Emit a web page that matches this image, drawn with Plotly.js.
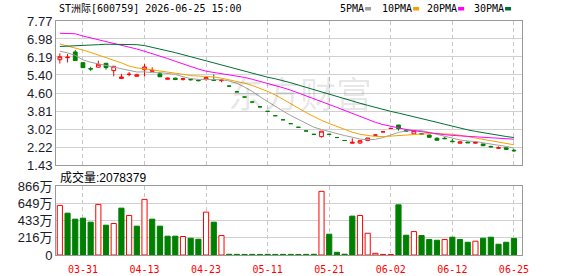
<!DOCTYPE html>
<html><head><meta charset="utf-8">
<script src="https://cdn.plot.ly/plotly-3.0.1.min.js"></script>
<style>html,body{margin:0;padding:0;background:#fff;}#chart{width:578px;height:276px;}</style>
</head><body><div id="chart"></div>
<script>
// ---------- data ----------
const dates = ['03-26','03-27','03-30','03-31','04-01','04-02','04-03','04-07','04-08','04-09',
  '04-10','04-13','04-14','04-15','04-16','04-17','04-20','04-21','04-22','04-23',
  '04-24','04-27','04-28','04-29','04-30','05-07','05-08','05-11','05-12','05-13',
  '05-14','05-15','05-18','05-19','05-20','05-21','05-22','05-25','05-26','05-27',
  '05-28','05-29','06-01','06-02','06-03','06-04','06-05','06-08','06-09','06-10',
  '06-11','06-12','06-15','06-16','06-17','06-18','06-22','06-23','06-24','06-25'];
const open  = [6.07,6.16,6.41,5.94,5.68,5.74,5.91,5.59,5.24,5.42,
  5.34,5.63,5.56,5.45,5.21,5.26,5.21,5.21,5.17,5.22,
  5.20,5.15,4.91,4.66,4.43,4.21,4.00,3.80,3.61,3.43,
  3.26,3.10,2.94,2.79,2.69,2.79,2.65,2.52,2.40,2.41,
  2.52,2.76,2.90,3.05,3.20,2.97,2.81,2.82,2.76,2.62,
  2.62,2.49,2.40,2.45,2.40,2.37,2.26,2.18,2.20,2.09];
const high  = [6.35,6.32,6.50,5.96,5.76,6.03,5.93,5.79,5.45,5.53,
  5.45,5.88,5.74,5.53,5.28,5.28,5.28,5.23,5.19,5.32,
  5.42,5.20,4.91,4.66,4.43,4.21,4.00,3.80,3.61,3.43,
  3.26,3.10,2.94,2.79,2.93,2.79,2.65,2.52,2.62,2.53,
  2.63,2.76,2.90,3.05,3.20,2.99,2.97,2.84,2.77,2.66,
  2.68,2.59,2.49,2.47,2.47,2.38,2.29,2.26,2.21,2.15];
const low   = [5.90,5.95,6.02,5.71,5.57,5.73,5.63,5.34,5.23,5.34,
  5.33,5.33,5.53,5.31,5.20,5.17,5.15,5.16,5.12,5.15,
  5.14,5.08,4.91,4.66,4.43,4.21,4.00,3.80,3.61,3.43,
  3.26,3.10,2.94,2.79,2.65,2.79,2.65,2.52,2.39,2.37,
  2.49,2.76,2.90,3.05,2.95,2.90,2.78,2.77,2.65,2.52,
  2.58,2.45,2.39,2.41,2.39,2.28,2.22,2.17,2.12,2.02];
const close = [6.20,6.18,6.03,5.72,5.66,5.87,5.72,5.78,5.31,5.43,
  5.41,5.75,5.60,5.32,5.26,5.20,5.23,5.19,5.15,5.28,
  5.16,5.17,4.91,4.66,4.43,4.21,4.00,3.80,3.61,3.43,
  3.26,3.10,2.94,2.79,2.93,2.79,2.65,2.52,2.44,2.51,
  2.63,2.76,2.90,3.05,3.04,2.93,2.95,2.80,2.66,2.53,
  2.60,2.47,2.46,2.42,2.44,2.29,2.24,2.20,2.13,2.07];
// volume in 万 (10,000 shares)
const volWan = [622,525,450,462,412,635,374,395,588,496,
  362,698,450,362,236,236,232,210,198,538,
  412,244,9,8,7,8,7,8,7,8,
  8,7,8,9,799,261,34,10,488,496,
  273,21,7,7,630,248,294,244,194,185,
  194,223,194,160,173,210,223,135,160,207.8379];
// moving-average values at the left edge (earlier history not shown)
const ma5Head  = [6.44,6.37,6.26,6.06];
const ma10Head = [6.76,6.68,6.59,6.49,6.39,6.28,6.17,6.05,5.93];
const ma20Head = [7.23,7.23,7.21,7.11,7.03,6.96,6.88,6.80,6.72,6.63,6.54,6.44,6.34,6.23,6.12,6.00,5.88,5.77,5.66];
const ma30Head = [6.65,6.66,6.67,6.69,6.71,6.73,6.75,6.75,6.75,6.75,6.73,6.69,6.62,6.55,6.47,6.38,6.29,6.20,
  6.11,6.02,5.93,5.83,5.73,5.64,5.55,5.46,5.38,5.30,5.23];
const maNames  = ['5PMA','10PMA','20PMA','30PMA'];
const priceTicks = [1.43,2.22,3.02,3.81,4.60,5.40,6.19,6.98,7.77];
const volTicks = [0,216,433,649,866];
const volTickText = ['0','216万','433万','649万','866万'];
const xTickDates = ['03-31','04-13','04-23','05-11','05-21','06-02','06-12','06-25'];
const titleText = 'ST洲际[600759] 2026-06-25 15:00';
const volLabel = '成交量';
const watermark = '东方财富';

// ---------- styling / geometry ----------
const RED = '#ff0000', GREEN = '#008000';
const maColors = ['#a0a0a0','#f5a200','#ff00ff','#006f35'];
const W = 578, H = 276, ML = 56, MR = 56, MT = 21, MB = 21;
const PW = W - ML - MR, PH = H - MT - MB;
const px = x => (x - ML) / PW;
const py = y => (H - MB - y) / PH;

function movingAvg(n, head) {
  return close.map((c, i) => {
    if (i < n - 1) return head[i];
    let s = 0; for (let k = i - n + 1; k <= i; k++) s += close[k];
    return s / n;
  });
}
const maSeries = [movingAvg(5, ma5Head), movingAvg(10, ma10Head), movingAvg(20, ma20Head), movingAvg(30, ma30Head)];

const volUp = close.map((c, i) => i === 0 ? c >= open[i] : (c === close[i-1] ? c >= open[i] : c > close[i-1]));

const traces = [];
traces.push({
  type: 'candlestick', x: dates, open: open, high: high, low: low, close: close,
  xaxis: 'x', yaxis: 'y', whiskerwidth: 0, hoverinfo: 'skip', showlegend: false,
  increasing: {line: {color: RED, width: 1}, fillcolor: '#ffffff'},
  decreasing: {line: {color: GREEN, width: 1}, fillcolor: GREEN}
});
maSeries.forEach((s, k) => traces.push({
  type: 'scatter', mode: 'lines', x: dates, y: s, xaxis: 'x', yaxis: 'y',
  line: {color: maColors[k], width: 1}, hoverinfo: 'skip', showlegend: false, name: maNames[k]
}));
traces.push({
  type: 'bar', x: dates, y: volWan, xaxis: 'x2', yaxis: 'y2', hoverinfo: 'skip', showlegend: false,
  marker: {color: volUp.map(u => u ? '#ffffff' : GREEN),
           line: {color: volUp.map(u => u ? RED : GREEN), width: 1}}
});

const frame = {showline: true, mirror: true, linecolor: '#999999', linewidth: 1, zeroline: false, fixedrange: true};
const xBase = Object.assign({}, frame, {
  type: 'category', range: [-0.5, 60.05], tickvals: xTickDates, ticktext: xTickDates,
  showgrid: true, gridcolor: '#c8c8c8', griddash: '4px,3px', gridwidth: 1,
  rangeslider: {visible: false}
});
const yFont = {family: 'Liberation Sans, Arial, Noto Sans CJK SC', size: 13, color: '#1a1a2a'};

const annotations = [
  {xref: 'paper', yref: 'paper', x: px(57), y: py(9), xanchor: 'left', yanchor: 'middle', showarrow: false,
   text: titleText, font: {family: 'DejaVu Sans Mono, Noto Sans CJK SC', size: 10, color: '#000'}},
  {xref: 'paper', yref: 'paper', x: px(58), y: py(177), xanchor: 'left', yanchor: 'middle', showarrow: false,
   text: volLabel + ':' + Math.round(volWan[volWan.length-1] * 10000),
   font: {family: 'Liberation Sans, Arial, Noto Sans CJK SC', size: 12, color: '#000'}},
  {xref: 'paper', yref: 'paper', x: px(300), y: py(92), xanchor: 'center', yanchor: 'middle', showarrow: false,
   text: watermark, font: {family: 'Noto Sans CJK SC', size: 36, color: 'rgba(0,0,0,0.1)'}}
];
const legendX = [338, 380, 425, 472];
const shapes = [];
maNames.forEach((n, k) => {
  annotations.push({xref: 'paper', yref: 'paper', x: px(legendX[k]), y: py(9), xanchor: 'left', yanchor: 'middle',
    showarrow: false, text: n, font: {family: 'DejaVu Sans Mono', size: 10, color: '#000'}});
  const sx = legendX[k] + n.length * 6.02 + 3;
  shapes.push({type: 'rect', xref: 'paper', yref: 'paper', x0: px(sx), x1: px(sx + 6), y0: py(10.5), y1: py(7),
    fillcolor: maColors[k], line: {width: 0}});
});

const layout = {
  width: W, height: H, margin: {l: ML, r: MR, t: MT, b: MB, pad: 0},
  paper_bgcolor: '#ffffff', plot_bgcolor: '#ffffff', showlegend: false, bargap: 0.33,
  xaxis: Object.assign({}, xBase, {anchor: 'y', showticklabels: false, ticks: ''}),
  yaxis: Object.assign({}, frame, {domain: [0.3833, 1], range: [1.43, 7.77], tickvals: priceTicks,
    ticktext: priceTicks.map(v => v.toFixed(2)), showgrid: true, gridcolor: '#d0d0d0', tickfont: yFont, ticks: ''}),
  xaxis2: Object.assign({}, xBase, {anchor: 'y2', matches: 'x', showticklabels: true, ticks: 'outside', ticklen: 5,
    tickcolor: 'rgba(0,0,0,0)', tickfont: {family: 'DejaVu Sans Mono', size: 10, color: RED}}),
  yaxis2: Object.assign({}, frame, {domain: [0, 0.2949], range: [0, 866], tickvals: volTicks, ticktext: volTickText,
    showgrid: true, gridcolor: '#d0d0d0', tickfont: yFont, ticks: ''}),
  annotations: annotations, shapes: shapes
};
Plotly.newPlot('chart', traces, layout, {displayModeBar: false, staticPlot: true});
</script></body></html>
